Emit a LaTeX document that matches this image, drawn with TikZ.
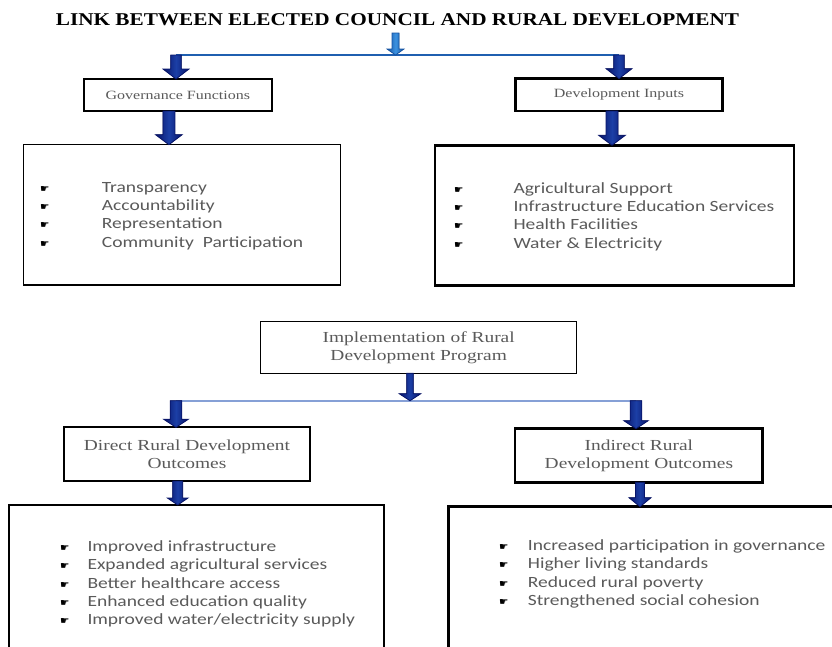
\documentclass[tikz,border=0pt]{standalone}
\usepackage{fontspec}
\usetikzlibrary{calc}
\newfontfamily\titlefont{Liberation Serif}[FakeStretch=1.18]
\newfontfamily\labelfont{Liberation Serif}[FakeStretch=1.27]
\newfontfamily\listfont{Carlito}[FakeStretch=1.25]
\newfontfamily\bulfont{DejaVu Sans}
\definecolor{navy}{HTML}{08156A}
\definecolor{arrowmid}{HTML}{1C3FA6}
\definecolor{topedge}{HTML}{1553A3}
\definecolor{topmid}{HTML}{3C92E0}
\definecolor{barone}{HTML}{1F5FB0}
\definecolor{bartwo}{HTML}{86A0D6}
\definecolor{txt}{HTML}{5A5A5A}
% style, start, end, half shaft, half head, head length
\newcommand{\blkarrow}[6]{%
  \filldraw[#1] ($#2+(-#4,0)$) -- ($#2+(#4,0)$) -- ($#3+(#4,-#6)$) -- ($#3+(#5,-#6)$) -- #3 -- ($#3+(-#5,-#6)$) -- ($#3+(-#4,-#6)$) -- cycle;}
\tikzset{
  box/.style={draw, rectangle, inner sep=0pt, outer sep=0pt},
  thinbox/.style={box, line width=1.4pt},
  thickbox/.style={box, line width=2.8pt},
  smalllabel/.style={font=\labelfont\fontsize{12.6}{15}\selectfont, text=txt, align=center},
  biglabel/.style={font=\labelfont\fontsize{15.3}{18.3}\selectfont, text=txt, align=center},
  item/.style={anchor=base west, inner sep=0pt, font=\listfont\fontsize{15.6}{18}\selectfont, text=txt},
  bul/.style={anchor=base west, inner sep=0pt, font=\bulfont\fontsize{10.5}{10.5}\selectfont},
  blk/.style={draw=navy, line width=0.8pt, left color=navy, right color=navy, middle color=arrowmid},
  toparrow/.style={draw=topedge, line width=0.7pt, left color=topedge, right color=topedge, middle color=topmid},
}
\begin{document}
\begin{tikzpicture}[x=1pt,y=-1pt]
\clip (0,0) rectangle (832,646);
\fill[white] (0,0) rectangle (832,646);

% title
\node[font=\titlefont\bfseries\fontsize{18}{20}\selectfont, anchor=base, inner sep=0pt] (title) at (397.5,25.7) {LINK BETWEEN ELECTED COUNCIL AND RURAL DEVELOPMENT};

% upper boxes
\node[thinbox, smalllabel, minimum width=188pt, minimum height=32pt] (gov) at (177.9,95) {Governance Functions};
\node[thickbox, smalllabel, minimum width=207pt, minimum height=32.3pt] (dev) at (619,94.8) {Development Inputs};
\node[thinbox, minimum width=317.4pt, minimum height=140.3pt] (govlist) at (182,214.85) {};
\node[thickbox, minimum width=359pt, minimum height=140.4pt] (devlist) at (614.5,215.5) {};

% middle and lower boxes
\node[thinbox, biglabel, minimum width=316pt, minimum height=51.6pt] (impl) at (418.7,347.5) {Implementation of Rural\\Development Program};
\node[thinbox, line width=1.8pt, biglabel, minimum width=246pt, minimum height=53.7pt] (direct) at (187,454.2) {Direct Rural Development\\Outcomes};
\node[thickbox, biglabel, minimum width=247.7pt, minimum height=53.6pt] (indirect) at (638.9,455.5) {Indirect Rural\\Development Outcomes};
\node[thickbox, minimum width=375pt, minimum height=165pt] (dirlist) at (196.5,587.5) {};
\node[thickbox, minimum width=401.7pt, minimum height=163.3pt] (indlist) at (649.2,588.35) {};

% top connector bar
\coordinate (t0) at (395.5,33);
\coordinate (t1) at (395.5,55);
\coordinate (barL) at (176,55);
\coordinate (barR) at (619,55);
\draw[barone, line width=1.3pt] (barL) -- (barR);
\blkarrow{toparrow}{(t0)}{(t1)}{3.5}{8.5}{6}
\blkarrow{blk}{(barL)}{(gov.north -| barL)}{5.3}{13}{10}
\blkarrow{blk}{(barR)}{(dev.north -| barR)}{5.3}{13}{10}

\coordinate (g1) at ($(gov.south)+(-9,0)$);
\coordinate (g2) at (g1 |- govlist.north);
\blkarrow{blk}{(g1)}{(g2)}{6}{13.3}{10}
\coordinate (d1) at ($(dev.south)+(-7,0)$);
\coordinate (d2) at (d1 |- devlist.north);
\blkarrow{blk}{(d1)}{(d2)}{6}{13.3}{10}

% lower connector bar
\coordinate (b2L) at (176,400.7);
\coordinate (b2R) at (636,400.7);
\draw[bartwo, line width=1.6pt] (b2L) -- (b2R);
\coordinate (i1) at ($(impl.south)+(-8.7,0)$);
\coordinate (i2) at (i1 |- b2L);
\blkarrow{blk}{(i1)}{(i2)}{3.3}{10.8}{7}
\blkarrow{blk}{(b2L)}{(direct.north -| b2L)}{5.8}{12.2}{8}
\blkarrow{blk}{(b2R)}{(indirect.north -| b2R)}{5.8}{12.2}{8}

\coordinate (e1) at ($(direct.south)+(-9.3,0)$);
\coordinate (e2) at (e1 |- dirlist.north);
\blkarrow{blk}{(e1)}{(e2)}{5}{10.3}{7}
\coordinate (f1) at ($(indirect.south)+(1.1,0)$);
\coordinate (f2) at (f1 |- indlist.north);
\blkarrow{blk}{(f1)}{(f2)}{4.5}{11}{9}

% lists
\foreach \t [count=\i] in {Transparency,Accountability,Representation,{Community\ \ Participation}} {
  \node[bul] (gb\i) at (40,{192.3+(\i-1)*18.3}) {☛};
  \node[item] (ga\i) at (101.7,{192.3+(\i-1)*18.3}) {\t};
}
\foreach \t [count=\i] in {Agricultural Support,Infrastructure Education Services,Health Facilities,Water \& Electricity} {
  \node[bul] (db\i) at (454,{193.3+(\i-1)*18.3}) {☛};
  \node[item] (da\i) at (513.3,{193.3+(\i-1)*18.3}) {\t};
}
\foreach \t [count=\i] in {Improved infrastructure,Expanded agricultural services,Better healthcare access,Enhanced education quality,Improved water/electricity supply} {
  \node[bul] (eb\i) at (60,{551.7+(\i-1)*18.2}) {☛};
  \node[item] (ea\i) at (87.3,{551.7+(\i-1)*18.2}) {\t};
}
\foreach \t [count=\i] in {Increased participation in governance,Higher living standards,Reduced rural poverty,Strengthened social cohesion} {
  \node[bul] (fb\i) at (499,{550.7+(\i-1)*18.2}) {☛};
  \node[item] (fa\i) at (527.7,{550.7+(\i-1)*18.2}) {\t};
}
\end{tikzpicture}
\end{document}
